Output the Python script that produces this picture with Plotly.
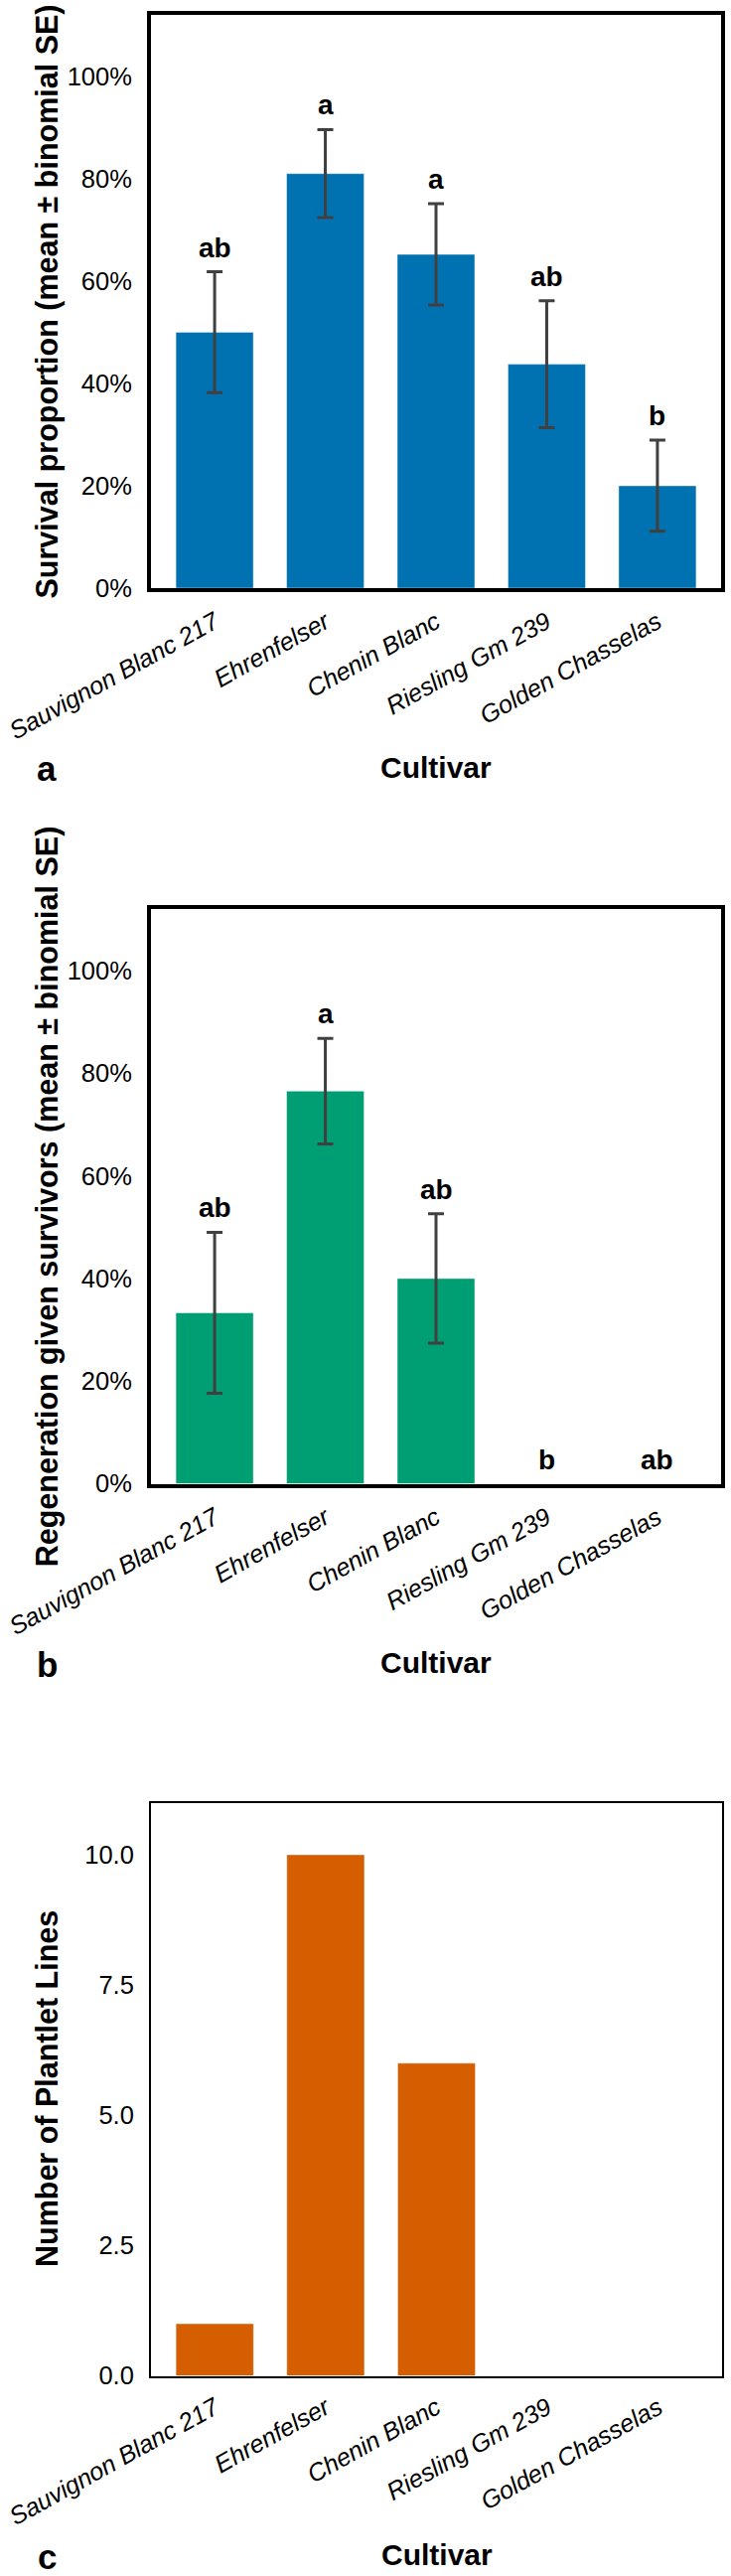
import plotly.graph_objects as go

# ---------------- data ----------------
cultivars = ["Sauvignon Blanc 217", "Ehrenfelser", "Chenin Blanc",
             "Riesling Gm 239", "Golden Chasselas"]

survival = [0.500, 0.810, 0.652, 0.4375, 0.200]
survival_se = [0.118, 0.086, 0.099, 0.124, 0.089]
survival_letters = ["ab", "a", "a", "ab", "b"]

regeneration = [0.333, 0.765, 0.400, 0.0, 0.0]
regeneration_se = [0.157, 0.103, 0.126, 0.0, 0.0]
regeneration_letters = ["ab", "a", "ab", "b", "ab"]

plantlet_lines = [1, 10, 6, 0, 0]

pct_ticks = [0, 0.2, 0.4, 0.6, 0.8, 1.0]
count_ticks = [0, 2.5, 5.0, 7.5, 10.0]
count_ticktext = ["0.0", "2.5", "5.0", "7.5", "10.0"]

# ---------------- styling ----------------
W, H = 736, 2593
FONT = "Liberation Sans, Arial, Helvetica, sans-serif"
BLUE, GREEN, ORANGE = "#0072B2", "#009E73", "#D55E00"
ERR = "#404040"

def px_x(p):
    return p / W

def px_y(p):
    return 1 - p / H

# plot areas in pixels (left, right, top, bottom)
panels = [
    dict(l=152, r=726, t=15, b=592, lw=4),
    dict(l=152, r=726, t=915, b=1493.5, lw=4),
    dict(l=152, r=727, t=1814.5, b=2391.5, lw=2),
]

fig = go.Figure()

def add_bars(idx, values, color):
    sfx = "" if idx == 0 else str(idx + 1)
    fig.add_trace(go.Bar(
        x=cultivars, y=values, width=0.7,
        marker=dict(color=color, line=dict(color="rgba(255,255,255,0.45)", width=1)),
        xaxis="x" + sfx, yaxis="y" + sfx, showlegend=False, hoverinfo="x+y",
    ))

def add_err(idx, values, se):
    sfx = "" if idx == 0 else str(idx + 1)
    xs = [c for c, s in zip(cultivars, se) if s > 0]
    ys = [v for v, s in zip(values, se) if s > 0]
    es = [s for s in se if s > 0]
    fig.add_trace(go.Scatter(
        x=xs, y=ys, mode="markers", marker=dict(size=1, opacity=0),
        error_y=dict(type="data", array=es, visible=True,
                     color=ERR, thickness=3, width=8),
        xaxis="x" + sfx, yaxis="y" + sfx, showlegend=False, hoverinfo="skip",
    ))

def add_letters(idx, values, se, letters):
    sfx = "" if idx == 0 else str(idx + 1)
    for c, v, s, t in zip(cultivars, values, se, letters):
        fig.add_annotation(
            x=c, y=v + s, xref="x" + sfx, yref="y" + sfx,
            text="<b>%s</b>" % t, showarrow=False,
            yanchor="bottom", xanchor="center", yshift=7,
            font=dict(family=FONT, size=28, color="black"),
        )

add_bars(0, survival, BLUE)
add_err(0, survival, survival_se)
add_letters(0, survival, survival_se, survival_letters)

add_bars(1, regeneration, GREEN)
add_err(1, regeneration, regeneration_se)
add_letters(1, regeneration, regeneration_se, regeneration_letters)

add_bars(2, plantlet_lines, ORANGE)

layout = dict(
    width=W, height=H, margin=dict(l=0, r=0, t=0, b=0),
    paper_bgcolor="white", plot_bgcolor="white",
    font=dict(family=FONT, color="black"),
    showlegend=False, bargap=0.3,
)

for i, p in enumerate(panels):
    sfx = "" if i == 0 else str(i + 1)
    xkey = "xaxis" + sfx
    ykey = "yaxis" + sfx
    layout[xkey] = dict(
        domain=[px_x(p["l"]), px_x(p["r"])], anchor="y" + sfx,
        type="category", range=[-0.575, 4.575],
        showline=True, linecolor="black", linewidth=p["lw"], mirror=True,
        ticks="", showgrid=False, zeroline=False, tickangle=-29,
        tickfont=dict(family=FONT, size=25, color="black", style="italic"),
        ticklabelstandoff=6, automargin=False, fixedrange=True,
    )
    ydict = dict(
        domain=[px_y(p["b"]), px_y(p["t"])], anchor="x" + sfx,
        showline=True, linecolor="black", linewidth=p["lw"], mirror=True,
        ticks="", showgrid=False, zeroline=False,
        tickfont=dict(family=FONT, size=25.5, color="black"),
        ticklabelstandoff=10, automargin=False, fixedrange=True,
    )
    if i < 2:
        ydict.update(range=[0, 1.12], tickvals=pct_ticks, tickformat=".0%")
    else:
        ydict.update(range=[0, 11], tickvals=count_ticks, ticktext=count_ticktext)
    layout[ykey] = ydict

fig.update_layout(**layout)

# axis titles and panel labels as paper annotations
ytitles = ["Survival proportion (mean \u00b1 binomial SE)",
           "Regeneration given survivors (mean \u00b1 binomial SE)",
           "Number of Plantlet Lines"]
panel_letters = ["a", "b", "c"]
for i, p in enumerate(panels):
    cy = (p["t"] + p["b"]) / 2
    fig.add_annotation(
        x=px_x(47), y=px_y(cy), xref="paper", yref="paper",
        text="<b>%s</b>" % ytitles[i], textangle=-90, showarrow=False,
        xanchor="center", yanchor="middle",
        font=dict(family=FONT, size=30.5, color="black"),
    )
    fig.add_annotation(
        x=px_x((p["l"] + p["r"]) / 2), y=px_y(p["b"] + 180), xref="paper", yref="paper",
        text="<b>Cultivar</b>", showarrow=False, xanchor="center", yanchor="middle",
        font=dict(family=FONT, size=30, color="black"),
    )
    fig.add_annotation(
        x=px_x(47), y=px_y(p["b"] + 182), xref="paper", yref="paper",
        text="<b>%s</b>" % panel_letters[i], showarrow=False,
        xanchor="center", yanchor="middle",
        font=dict(family=FONT, size=35, color="black"),
    )

fig.write_html("out.html")
